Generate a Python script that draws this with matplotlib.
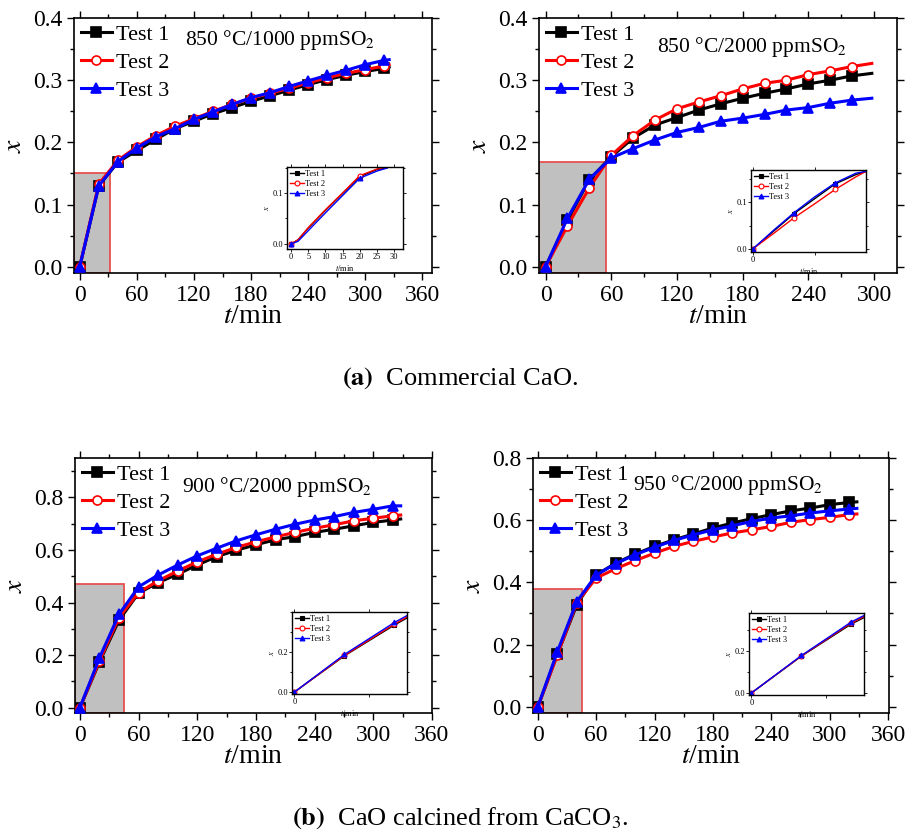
import matplotlib
matplotlib.use("Agg")
import matplotlib.pyplot as plt
from matplotlib.patches import Rectangle
from matplotlib.ticker import MultipleLocator, AutoMinorLocator

plt.rcParams['font.family'] = ['Liberation Serif', 'DejaVu Serif']
plt.rcParams['mathtext.fontset'] = 'stix'

labels = ["Test 1", "Test 2", "Test 3"]

# ---- (a) left: 850 °C / 1000 ppm SO2 ----
t_a1 = [0, 20, 40, 60, 80, 100, 120, 140, 160, 180, 200, 220, 240, 260, 280, 300, 320, 325]
a1_test1 = [0, 0.130, 0.168, 0.187, 0.205, 0.222, 0.234, 0.246, 0.256, 0.266, 0.275, 0.284, 0.293, 0.301, 0.308, 0.314, 0.319, 0.321]
a1_test2 = [0, 0.133, 0.171, 0.193, 0.211, 0.226, 0.238, 0.250, 0.261, 0.271, 0.279, 0.287, 0.296, 0.304, 0.311, 0.317, 0.323, 0.325]
a1_test3 = [0, 0.130, 0.169, 0.191, 0.209, 0.222, 0.237, 0.249, 0.261, 0.272, 0.280, 0.290, 0.299, 0.308, 0.316, 0.325, 0.332, 0.333]

# ---- (a) right: 850 °C / 2000 ppm SO2 ----
t_a2 = [0, 20, 40, 60, 80, 100, 120, 140, 160, 180, 200, 220, 240, 260, 280, 298]
a2_test1 = [0, 0.075, 0.140, 0.177, 0.207, 0.228, 0.240, 0.252, 0.262, 0.271, 0.279, 0.286, 0.294, 0.300, 0.307, 0.311]
a2_test2 = [0, 0.066, 0.127, 0.179, 0.211, 0.236, 0.254, 0.265, 0.275, 0.286, 0.295, 0.300, 0.309, 0.315, 0.322, 0.327]
a2_test3 = [0, 0.078, 0.141, 0.175, 0.190, 0.204, 0.216, 0.224, 0.234, 0.239, 0.245, 0.252, 0.256, 0.263, 0.268, 0.271]

# ---- (b) left: 900 °C / 2000 ppm SO2 ----
t_b1 = [0, 20, 40, 60, 80, 100, 120, 140, 160, 180, 200, 220, 240, 260, 280, 300, 320, 328]
b1_test1 = [0, 0.174, 0.333, 0.436, 0.476, 0.508, 0.543, 0.575, 0.599, 0.620, 0.639, 0.651, 0.667, 0.679, 0.692, 0.705, 0.714, 0.718]
b1_test2 = [0, 0.178, 0.343, 0.438, 0.483, 0.520, 0.555, 0.584, 0.610, 0.631, 0.650, 0.667, 0.683, 0.696, 0.711, 0.721, 0.730, 0.733]
b1_test3 = [0, 0.190, 0.355, 0.460, 0.505, 0.543, 0.578, 0.607, 0.635, 0.658, 0.679, 0.698, 0.714, 0.727, 0.743, 0.755, 0.768, 0.768]

# ---- (b) right: 950 °C / 2000 ppm SO2 ----
t_b2 = [0, 20, 40, 60, 80, 100, 120, 140, 160, 180, 200, 220, 240, 260, 280, 300, 320, 328]
b2_test1 = [0, 0.169, 0.328, 0.424, 0.462, 0.491, 0.516, 0.537, 0.556, 0.575, 0.591, 0.605, 0.618, 0.630, 0.639, 0.650, 0.657, 0.659]
b2_test2 = [0, 0.166, 0.335, 0.414, 0.444, 0.470, 0.494, 0.516, 0.532, 0.546, 0.559, 0.569, 0.580, 0.593, 0.602, 0.609, 0.618, 0.620]
b2_test3 = [0, 0.177, 0.338, 0.424, 0.460, 0.489, 0.513, 0.535, 0.553, 0.569, 0.582, 0.596, 0.607, 0.614, 0.623, 0.630, 0.636, 0.638]

# ---- insets ----
ti_a1 = [0, 2, 5, 10, 15, 20, 25, 28]
ia1_test1 = [0, 0.008, 0.031, 0.066, 0.099, 0.132, 0.146, 0.150]
ia1_test2 = [0, 0.008, 0.032, 0.067, 0.100, 0.134, 0.147, 0.151]
ia1_test3 = [0, 0.005, 0.026, 0.061, 0.095, 0.129, 0.143, 0.149]

ti_a2 = [0, 10, 20, 30, 40, 50, 55]
ia2_test1 = [0, 0.038, 0.076, 0.108, 0.140, 0.160, 0.167]
ia2_test2 = [0, 0.033, 0.067, 0.097, 0.128, 0.155, 0.167]
ia2_test3 = [0, 0.040, 0.078, 0.112, 0.142, 0.163, 0.167]

ti_b1 = [0, 20, 40, 45]
ib1_test1 = [0, 0.181, 0.335, 0.370]
ib1_test2 = [0, 0.183, 0.340, 0.375]
ib1_test3 = [0, 0.188, 0.348, 0.382]

ti_b2 = [0, 20, 40, 45]
ib2_test1 = [0, 0.175, 0.328, 0.358]
ib2_test2 = [0, 0.176, 0.333, 0.363]
ib2_test3 = [0, 0.178, 0.338, 0.368]

titles = ["850 °C/1000 ppmSO$_2$", "850 °C/2000 ppmSO$_2$",
          "900 °C/2000 ppmSO$_2$", "950 °C/2000 ppmSO$_2$"]

styles = [dict(color='black', marker='s', mfc='black', mec='black'),
          dict(color='red', marker='o', mfc='white', mec='red'),
          dict(color='blue', marker='^', mfc='blue', mec='blue')]

fig = plt.figure(figsize=(9.2, 8.31), dpi=100)

W, H = 920.0, 831.0
def frac(x0, y0, x1, y1):
    return [x0 / W, 1 - y1 / H, (x1 - x0) / W, (y1 - y0) / H]

panels = [
    dict(rect=frac(74, 18, 432, 273), t=t_a1, ys=[a1_test1, a1_test2, a1_test3],
         xlim=(-6, 370), ylim=(-0.01, 0.4), ymaj=0.1, xt=[0, 60, 120, 180, 240, 300, 360],
         shade=(32, 0.15), title=titles[0], tpos=(0.31, 0.893),
         inset=frac(287, 167, 403, 249), it=ti_a1, iys=[ia1_test1, ia1_test2, ia1_test3],
         ixlim=(-1.2, 32.6), iylim=(-0.01, 0.151), ixt=[0, 5, 10, 15, 20, 25, 30],
         ixl=None, iyt=[0.0, 0.1], imark=[0, 5]),
    dict(rect=frac(539, 18, 897, 273), t=t_a2, ys=[a2_test1, a2_test2, a2_test3],
         xlim=(-6, 321), ylim=(-0.01, 0.4), ymaj=0.1, xt=[0, 60, 120, 180, 240, 300],
         shade=(55, 0.169), title=titles[1], tpos=(0.33, 0.865),
         inset=frac(751, 170, 866, 252), it=ti_a2, iys=[ia2_test1, ia2_test2, ia2_test3],
         ixlim=(-1, 55), iylim=(-0.007, 0.17), ixt=[0, 30], ixl=["0", ""],
         iyt=[0.0, 0.1], imark=[0, 2, 4]),
    dict(rect=frac(75, 458, 432, 713), t=t_b1, ys=[b1_test1, b1_test2, b1_test3],
         xlim=(-5, 360), ylim=(-0.02, 0.95), ymaj=0.2, xt=[0, 60, 120, 180, 240, 300, 360],
         shade=(45, 0.472), title=titles[2], tpos=(0.30, 0.865),
         inset=frac(292, 612, 407, 694), it=ti_b1, iys=[ib1_test1, ib1_test2, ib1_test3],
         ixlim=(-1, 45), iylim=(-0.01, 0.4), ixt=[0, 30], ixl=["0", ""],
         iyt=[0.0, 0.2], imark=[0, 1, 2]),
    dict(rect=frac(533, 458, 889, 713), t=t_b2, ys=[b2_test1, b2_test2, b2_test3],
         xlim=(-5, 361), ylim=(-0.02, 0.8), ymaj=0.2, xt=[0, 60, 120, 180, 240, 300, 360],
         shade=(45, 0.38), title=titles[3], tpos=(0.28, 0.875),
         inset=frac(749, 613, 864, 695), it=ti_b2, iys=[ib2_test1, ib2_test2, ib2_test3],
         ixlim=(-1, 45), iylim=(-0.01, 0.38), ixt=[0, 30], ixl=["0", ""],
         iyt=[0.0, 0.2], imark=[0, 1, 2]),
]

for p in panels:
    ax = fig.add_axes(p['rect'])
    ax.set_xlim(*p['xlim'])
    ax.set_ylim(*p['ylim'])
    x0 = p['xlim'][0]
    y0 = p['ylim'][0]
    ax.add_patch(Rectangle((x0, y0), p['shade'][0] - x0, p['shade'][1] - y0,
                           facecolor='#c0c0c0', edgecolor='#e85050', lw=1.3, zorder=1))
    nmark = len(p['t']) - 1
    for y, lab, st in zip(p['ys'], labels, styles):
        ax.plot(p['t'], y, lw=2.2, ms=6.5, mew=1.2, markevery=list(range(nmark)),
                label=lab, zorder=3, **st)
    ax.set_xticks(p['xt'])
    ax.yaxis.set_major_locator(MultipleLocator(p['ymaj']))
    ax.yaxis.set_major_formatter(matplotlib.ticker.FormatStrFormatter('%.1f'))
    ax.xaxis.set_minor_locator(AutoMinorLocator(2))
    ax.yaxis.set_minor_locator(AutoMinorLocator(2))
    ax.tick_params(which='both', direction='out', top=True, right=True, labelsize=17)
    ax.tick_params(which='major', length=5, width=1)
    ax.tick_params(which='minor', length=3, width=1)
    for s in ax.spines.values():
        s.set_linewidth(1.2)
    ax.set_xlabel(r"$\mathit{t}$/min", fontsize=20, labelpad=-1)
    ax.set_ylabel(r"$\mathit{x}$", fontsize=20, labelpad=4)
    ax.text(p['tpos'][0], p['tpos'][1], p['title'], transform=ax.transAxes,
            fontsize=15.5, va='baseline', ha='left')
    ax.legend(loc='upper left', bbox_to_anchor=(0.0, 1.0), frameon=False,
              fontsize=16, handlelength=1.4, handletextpad=0.2,
              labelspacing=0.32, borderaxespad=0.1, borderpad=0.2)

    ia = fig.add_axes(p['inset'])
    for y, lab, st in zip(p['iys'], labels, styles):
        ia.plot(p['it'], y, lw=1.0, ms=3.5, mew=0.8, markevery=p['imark'], label=lab, **st)
    ia.set_xlim(*p['ixlim'])
    ia.set_ylim(*p['iylim'])
    ia.set_xticks(p['ixt'])
    if p['ixl'] is not None:
        ia.set_xticklabels(p['ixl'])
    ia.set_yticks(p['iyt'])
    ia.yaxis.set_major_formatter(matplotlib.ticker.FormatStrFormatter('%.1f'))
    ia.yaxis.set_minor_locator(AutoMinorLocator(2))
    ia.tick_params(which='both', direction='out', top=True, right=True, labelsize=6,
                   length=2, width=0.6, pad=1)
    ia.tick_params(which='minor', length=1.2)
    for s in ia.spines.values():
        s.set_linewidth(1.0)
    ia.set_xlabel(r"$\mathit{t}$/min", fontsize=6, labelpad=1)
    ia.set_ylabel(r"$\mathit{x}$", fontsize=6, labelpad=1)
    ia.legend(loc='upper left', frameon=False, fontsize=6, handlelength=1.6,
              handletextpad=0.2, labelspacing=0.2, borderaxespad=0.2, borderpad=0.2)

fig.text(0.5, 1 - 378 / H, r"$\mathbf{(a)}$  Commercial CaO.", ha='center', va='center', fontsize=19)
fig.text(0.5, 1 - 818 / H, r"$\mathbf{(b)}$  CaO calcined from CaCO$_3$.", ha='center', va='center', fontsize=19)

fig.savefig("out.png", dpi=100)
